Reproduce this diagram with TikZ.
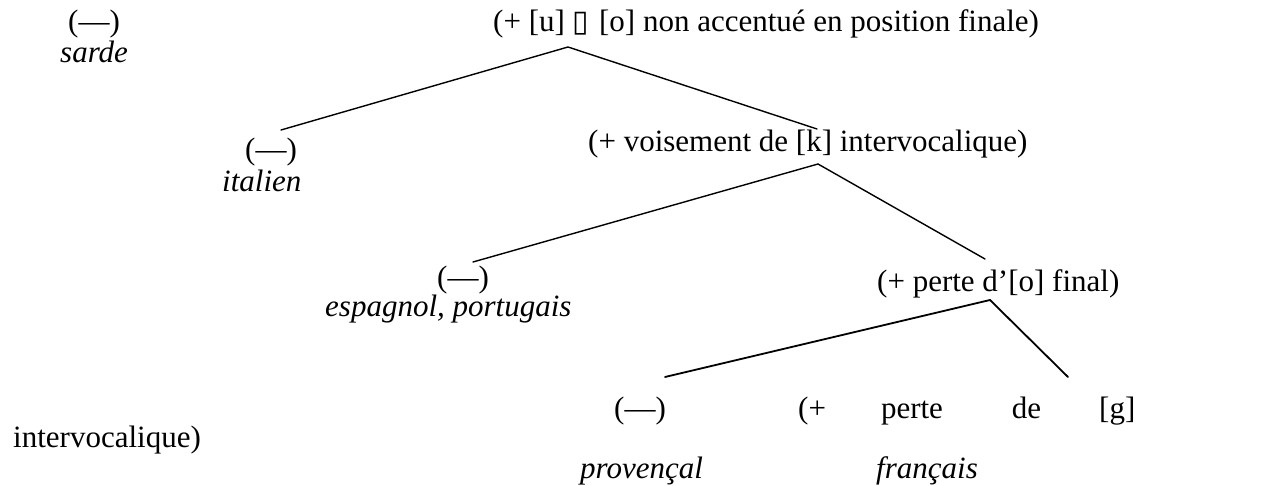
\documentclass[tikz,border=0pt]{standalone}
\usepackage{fontspec}
\setmainfont{Liberation Serif}
\newfontfamily\boxfont{DejaVu Sans}
\begin{document}
\begin{tikzpicture}[x=1pt,y=-1pt,
  every node/.style={inner sep=0pt, anchor=base west, font=\fontsize{31}{37}\selectfont},
  lang/.style={font=\fontsize{31}{37}\selectfont\itshape},
  branch/.style={line width=1.4pt, line cap=round},
  branchb/.style={line width=1.8pt, line cap=round}]
\useasboundingbox (0,0) rectangle (1270,486);
% labels
\node (n0) at (68,32) {(—)};
\node[lang] (sarde) at (60,63) {sarde};
\node (root) at (493,32) {(+ [u] {\boxfont\fontsize{30}{36}\selectfont\char"25AF}\hspace{10pt}[o] non accentué en position finale)};
\node (n1) at (245,160) {(—)};
\node[lang] (italien) at (222,192) {italien};
\node (k) at (588,152) {(+ voisement de [k] intervocalique)};
\node (n2) at (437,288) {(—)};
\node[lang] (esp) at (325,317) {espagnol, portugais};
\node (o) at (877,292) {(+ perte d’[o] final)};
\node (n3) at (614,418) {(—)};
\node (g) at (798,418) {(+\hspace{55pt}perte\hspace{69pt}de\hspace{58pt}[g]};
\node (iv) at (13,447) {intervocalique)};
\node[lang] (prov) at (580,478) {provençal};
\node[lang] (fr) at (876,478) {français};
% branch points
\coordinate (a1) at (568,47);
\coordinate (l1) at (281,130);
\coordinate (r1) at (817,129);
\coordinate (a2) at (818,164);
\coordinate (l2) at (473,262);
\coordinate (r2) at (985,259);
\coordinate (a3) at (990,300);
\coordinate (l3) at (665,377);
\coordinate (r3) at (1068,377);
\draw[branch] (l1) -- (a1) -- (r1);
\draw[branch] (l2) -- (a2) -- (r2);
\draw[branchb] (l3) -- (a3) -- (r3);
\end{tikzpicture}
\end{document}
